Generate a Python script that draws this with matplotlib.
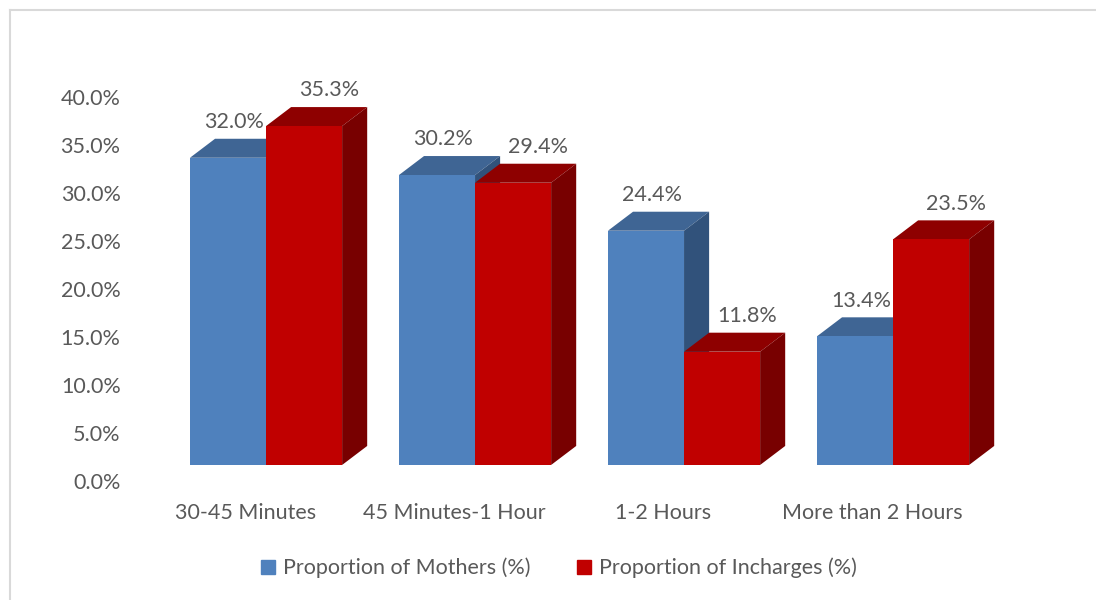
import matplotlib.pyplot as plt
from matplotlib.patches import Polygon
from matplotlib.lines import Line2D
import numpy as np

plt.rcParams["font.family"] = ["Lato", "DejaVu Sans"]

# Data
categories = ["30-45 Minutes", "45 Minutes-1 Hour", "1-2 Hours", "More than 2 Hours"]
mothers = [32.0, 30.2, 24.4, 13.4]
incharges = [35.3, 29.4, 11.8, 23.5]
series_names = ["Proportion of Mothers (%)", "Proportion of Incharges (%)"]
yticks = [0, 5, 10, 15, 20, 25, 30, 35, 40]

# colours: front, top, side
blue = ("#4F81BD", "#3F6594", "#31527B")
red = ("#C00000", "#8E0000", "#780000")
text_col = "#595959"
fs = 15.5

# 3d look (in data units)
bar_w = 0.364
dx = 0.12
dy = 1.98
floor = 1.67

fig = plt.figure(figsize=(10.96, 6), dpi=100)
ax = fig.add_axes([140 / 1096, 119 / 600, 910 / 1096, 421 / 600])
ax.set_xlim(-0.603, 3.751)
ax.set_ylim(0, 421 / 9.6)


def bar3d(x0, h, cols):
    b, t = floor, floor + h
    ax.add_patch(Polygon([(x0, b), (x0 + bar_w, b), (x0 + bar_w, t), (x0, t)],
                         closed=True, fc=cols[0], ec="none", zorder=3))
    ax.add_patch(Polygon([(x0, t), (x0 + bar_w, t), (x0 + bar_w + dx, t + dy), (x0 + dx, t + dy)],
                         closed=True, fc=cols[1], ec="none", zorder=2))
    ax.add_patch(Polygon([(x0 + bar_w, b), (x0 + bar_w + dx, b + dy), (x0 + bar_w + dx, t + dy), (x0 + bar_w, t)],
                         closed=True, fc=cols[2], ec="none", zorder=2))


x = np.arange(len(categories))
for i in x:
    bar3d(i - bar_w, mothers[i], blue)
    ax.text(i - bar_w / 2 + 0.03, floor + mothers[i] + dy + 0.7, f"{mothers[i]:.1f}%",
            ha="center", va="bottom", fontsize=fs, color=text_col, zorder=5)
for i in x:
    bar3d(i, incharges[i], red)
    ax.text(i + bar_w / 2 + dx, floor + incharges[i] + dy + 0.7, f"{incharges[i]:.1f}%",
            ha="center", va="bottom", fontsize=fs, color=text_col, zorder=5)

ax.set_yticks(yticks)
ax.set_yticklabels([f"{v:.1f}%" for v in yticks], fontsize=fs, color=text_col)
ax.set_xticks(x - 0.1)
ax.set_xticklabels(categories, fontsize=fs, color=text_col)
ax.tick_params(axis="both", length=0)
ax.tick_params(axis="y", pad=14)
ax.tick_params(axis="x", pad=16)
for s in ax.spines.values():
    s.set_visible(False)

handles = [Line2D([], [], marker="s", ls="", ms=9.5, color=blue[0]),
           Line2D([], [], marker="s", ls="", ms=9.5, color=red[0])]
fig.legend(handles, series_names, loc="center", bbox_to_anchor=(557 / 1096, 1 - 568 / 600),
           ncol=2, frameon=False, fontsize=fs, labelcolor=text_col,
           handletextpad=0.2, columnspacing=2.0, handlelength=1.0)

# chart frame (top and left only)
fig.add_artist(Line2D([10 / 1096, 10 / 1096], [0, 1 - 10 / 600], color="#D9D9D9", lw=1.5))
fig.add_artist(Line2D([10 / 1096, 1], [1 - 10 / 600, 1 - 10 / 600], color="#D9D9D9", lw=1.5))

fig.savefig("out.png", dpi=100)
